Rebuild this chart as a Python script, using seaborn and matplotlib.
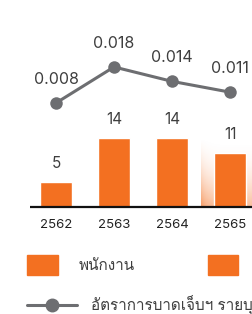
import numpy as np
import pandas as pd
import seaborn as sns
import matplotlib
matplotlib.use('Agg')
import matplotlib.pyplot as plt
from matplotlib import font_manager
from matplotlib.ft2font import FT2Font
from matplotlib.patches import Patch
from matplotlib.lines import Line2D

years = ['2562', '2563', '2564', '2565']
employees = [5, 14, 14, 11]
injury_rate = [0.008, 0.018, 0.014, 0.011]
rate_labels = ['0.008', '0.018', '0.014', '0.011']
legend_labels = ['พนักงาน', 'ผู้รับเหมา', 'อัตราการบาดเจ็บฯ รายบุคคล']

orange = '#F37021'
grey = '#6D6E71'
text_c = '#3F3F3F'


# first installed font that has Thai glyphs
def thai_font():
    for f in font_manager.fontManager.ttflist:
        try:
            if 0x0E1E in FT2Font(f.fname).get_charmap():
                return f.name
        except Exception:
            pass
    return 'DejaVu Sans'


sns.set_theme(style='white')
th = thai_font()
plt.rcParams['font.family'] = ['Inter', th, 'DejaVu Sans']

df = pd.DataFrame({'year': years, 'employees': employees, 'rate': injury_rate})
df['pos'] = np.arange(len(df))

fig = plt.figure(figsize=(2.52, 3.14), dpi=100)
# axes go from the baseline (207px from top) to the top of the picture
ax = fig.add_axes([0, 107 / 314, 1, 207 / 314])

sns.barplot(data=df, x='year', y='employees', color=orange, saturation=1,
            width=0.55, ax=ax, zorder=3)
for c in ax.containers:
    ax.bar_label(c, padding=8, fontsize=11, color=text_c)

# soft highlight behind the last bar
grad = np.zeros((60, 60, 4))
grad[..., :3] = matplotlib.colors.to_rgb(orange)
gx = np.linspace(0, 1, 60)[None, :]
gy = np.linspace(0, 1, 60)[:, None]
grad[..., 3] = (0.45 * (1 - gy) ** 2 + 0.25 * np.exp(-gx * 10) * (1 - gy)).clip(0, 1)
ax.imshow(grad, extent=(2.5, 3.4, 0, 14), origin='lower', aspect='auto', zorder=1)

ax.set_xlim(-0.966, 3.379)
ax.set_ylim(0, 42)
ax.hlines(0, -0.45, 3.4, color='#111111', lw=1.6, zorder=4, clip_on=False)
ax.set_xlabel('')
ax.set_ylabel('')
ax.set_yticks([])
ax.tick_params(axis='x', length=0, pad=9, labelsize=9.5, labelcolor='#222222')
sns.despine(ax=ax, left=True, bottom=True)

ax2 = ax.twinx()
sns.lineplot(data=df, x='pos', y='rate', color=grey, lw=2.2, marker='o',
             markersize=9, markeredgewidth=0, ax=ax2, zorder=5)
for x, y, s in zip(df['pos'], df['rate'], rate_labels):
    ax2.annotate(s, (x, y), xytext=(0, 17), textcoords='offset points',
                 ha='center', va='center', fontsize=11.5, color=text_c)
ax2.set_ylim(-0.0209, 0.0366)
ax2.set_xlim(-0.966, 3.379)
ax2.set_yticks([])
ax2.set_ylabel('')
ax2.set_xlabel('')
sns.despine(ax=ax2, left=True, bottom=True, right=True)

h_bar = [Patch(color=orange, label=legend_labels[0]),
         Patch(color=orange, label=legend_labels[1])]
fig.legend(handles=h_bar, loc='upper left', bbox_to_anchor=(27 / 252, 1 - 253 / 314),
           ncol=2, frameon=False, fontsize=11, borderpad=0, borderaxespad=0,
           handlelength=2.0, handleheight=1.7, handletextpad=1.4, columnspacing=4.75,
           labelcolor=text_c)
h_line = [Line2D([], [], color=grey, lw=2.2, marker='o', markersize=9, label=legend_labels[2])]
fig.legend(handles=h_line, loc='upper left', bbox_to_anchor=(27 / 252, 1 - 295 / 314),
           frameon=False, fontsize=11, borderpad=0, borderaxespad=0,
           handlelength=3.3, handletextpad=0.9, labelcolor=text_c)

plt.savefig('out.png', dpi=100)
